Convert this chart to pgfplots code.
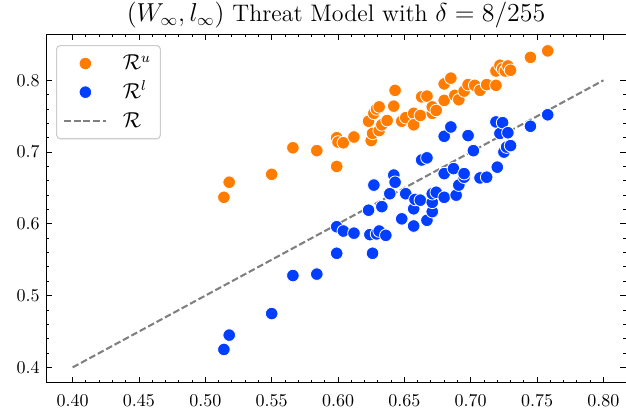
\documentclass[border=0pt]{standalone}
\usepackage{pgfplots}
\pgfplotsset{compat=1.18}
\definecolor{sbblue}{HTML}{023EFF}
\definecolor{sborange}{HTML}{FF7C00}
\pgfplotsset{
  markleg/.style={legend image code/.code={\draw[##1] plot coordinates {(0.41cm,0cm)}; \path (0cm,0cm) (0.82cm,0cm);}},
  lineleg/.style={legend image code/.code={\draw[##1] (0cm,0cm) -- (0.82cm,0cm);}},
}
\pgfplotstableread{
x y
0.514 0.637
0.518 0.658
0.550 0.669
0.566 0.706
0.584 0.702
0.599 0.680
0.599 0.720
0.600 0.714
0.604 0.713
0.612 0.721
0.625 0.716
0.626 0.726
0.623 0.743
0.627 0.754
0.629 0.760
0.631 0.763
0.631 0.730
0.633 0.738
0.637 0.744
0.642 0.764
0.643 0.786
0.648 0.743
0.651 0.748
0.657 0.754
0.657 0.738
0.662 0.751
0.663 0.777
0.667 0.778
0.671 0.754
0.671 0.763
0.674 0.758
0.680 0.795
0.680 0.772
0.685 0.803
0.688 0.779
0.691 0.773
0.695 0.785
0.698 0.794
0.703 0.793
0.707 0.786
0.712 0.794
0.719 0.793
0.719 0.813
0.722 0.821
0.724 0.816
0.726 0.813
0.728 0.820
0.730 0.814
0.745 0.832
0.758 0.841
}\upperdata
\pgfplotstableread{
x y
0.514 0.425
0.518 0.445
0.550 0.475
0.566 0.528
0.584 0.530
0.599 0.559
0.599 0.596
0.604 0.590
0.612 0.587
0.626 0.559
0.623 0.619
0.624 0.585
0.627 0.654
0.629 0.586
0.631 0.590
0.633 0.624
0.636 0.584
0.639 0.642
0.642 0.668
0.643 0.658
0.648 0.607
0.651 0.642
0.657 0.597
0.657 0.621
0.658 0.634
0.662 0.633
0.663 0.689
0.667 0.692
0.667 0.605
0.671 0.617
0.671 0.630
0.671 0.642
0.674 0.644
0.680 0.722
0.680 0.670
0.680 0.637
0.685 0.735
0.687 0.677
0.689 0.640
0.691 0.654
0.695 0.665
0.695 0.670
0.698 0.723
0.702 0.702
0.707 0.664
0.712 0.665
0.719 0.742
0.720 0.679
0.722 0.726
0.724 0.741
0.725 0.700
0.727 0.707
0.728 0.727
0.730 0.709
0.745 0.736
0.758 0.752
}\lowerdata
\begin{document}
\begin{tikzpicture}
\begin{axis}[
  scale only axis,
  width=322.2pt, height=193.6pt,
  xmin=0.38, xmax=0.817,
  ymin=0.3785, ymax=0.864,
  axis line style={line width=0.5pt},
  xtick={0.40,0.45,0.50,0.55,0.60,0.65,0.70,0.75,0.80},
  ytick={0.4,0.5,0.6,0.7,0.8},
  minor x tick num=4, minor y tick num=4,
  tick align=inside,
  major tick length=3.3pt, minor tick length=1.7pt,
  every tick/.style={line width=0.5pt, black},
  xticklabel style={yshift=-3pt, /pgf/number format/.cd, fixed, fixed zerofill, precision=2},
  yticklabel style={/pgf/number format/.cd, fixed, fixed zerofill, precision=1},
  title={$(W_\infty, l_\infty)$ Threat Model with $\delta = 8/255$},
  title style={font=\fontsize{13.3}{15}\selectfont, at={(0.5,1)}, anchor=base, yshift=1pt},
  legend style={at={(0,1)}, anchor=north west, xshift=5.6pt, yshift=-5.9pt,
    draw=black!20, rounded corners=2pt, line width=0.6pt, fill=white,
    font=\fontsize{12}{14}\selectfont, inner xsep=3.7pt, inner ysep=4pt,
    row sep=3.9pt, column sep=7.1pt,
    nodes={inner sep=1.5pt, text height=8pt, text depth=1pt}},
  legend cell align=left,
]
\addplot[only marks, mark=*, mark size=3.5pt, mark options={draw=white, fill=sborange, line width=0.45pt}, markleg]
  table {\upperdata};
\addlegendentry{$\mathcal{R}^u$}
\addplot[only marks, mark=*, mark size=3.5pt, mark options={draw=white, fill=sbblue, line width=0.45pt}, markleg]
  table {\lowerdata};
\addlegendentry{$\mathcal{R}^l$}
\addplot[color=black!50, line width=1.15pt, dash pattern=on 3.7pt off 1.6pt, lineleg]
  coordinates {(0.40,0.40) (0.80,0.80)};
\addlegendentry{$\mathcal{R}$}
\coordinate (bl) at (rel axis cs:0,0);
\coordinate (tr) at (rel axis cs:1,1);
\end{axis}
\pgfresetboundingbox
\path[use as bounding box] ([shift={(-25.6pt,-15.2pt)}]bl) rectangle ([shift={(0pt,19.1pt)}]tr);
\end{tikzpicture}
\end{document}
